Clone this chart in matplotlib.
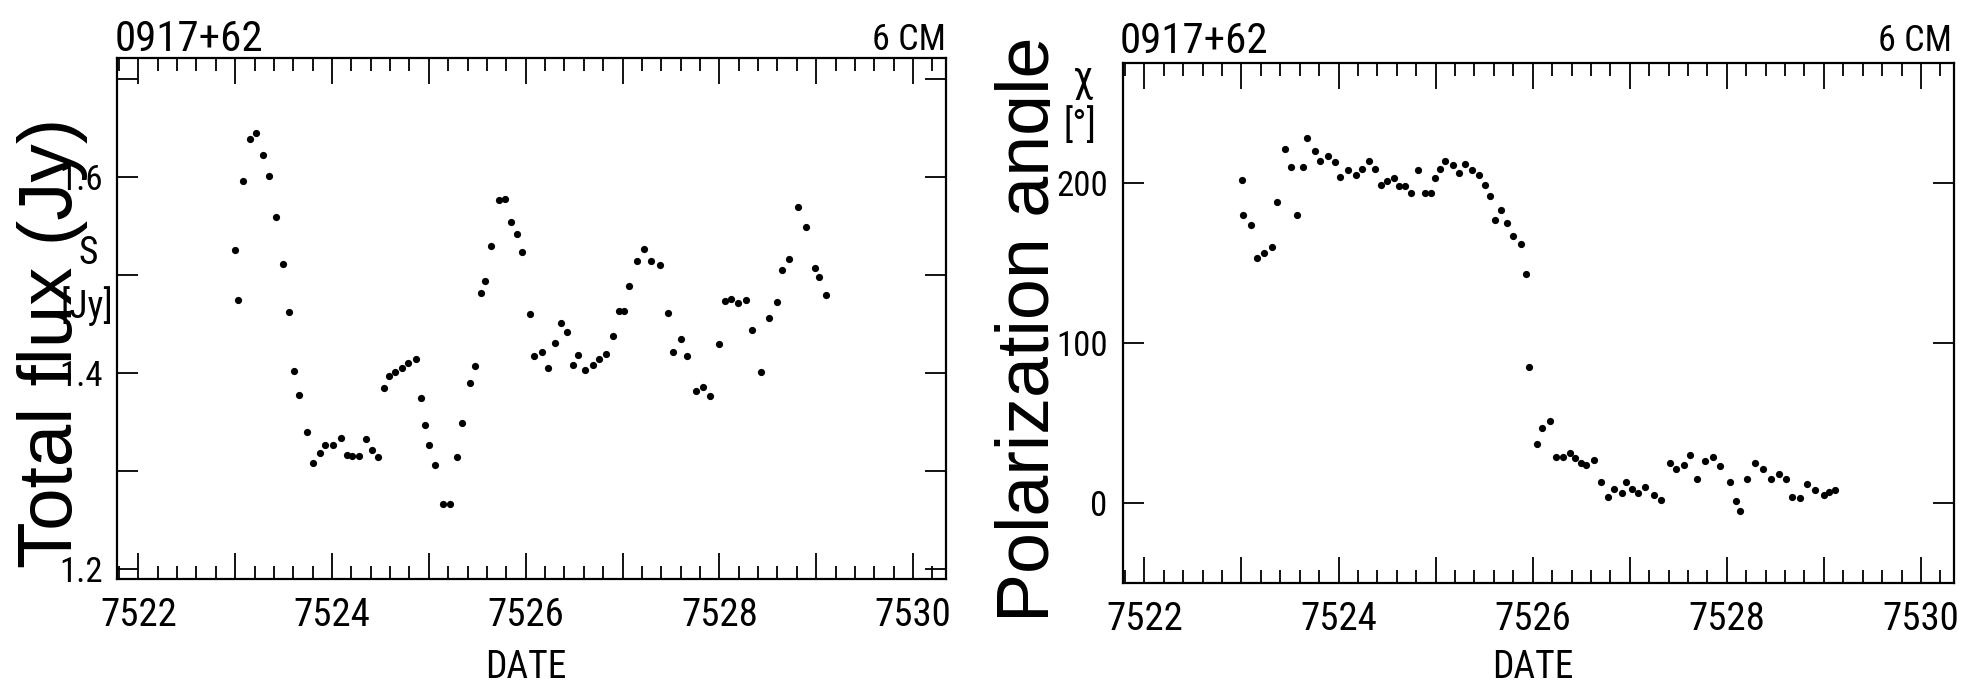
import matplotlib
matplotlib.use("Agg")
import matplotlib.pyplot as plt
from matplotlib.ticker import FixedLocator, MultipleLocator, FuncFormatter
from matplotlib.transforms import Bbox, TransformedBbox

# 0917+62, 6 cm monitoring
flux_date = [7523.00, 7523.03, 7523.08, 7523.15, 7523.22, 7523.29, 7523.35, 7523.42, 7523.49, 7523.56,
             7523.61, 7523.66, 7523.74, 7523.80, 7523.88, 7523.93, 7524.01, 7524.09, 7524.15, 7524.21,
             7524.28, 7524.35, 7524.41, 7524.48, 7524.54, 7524.59, 7524.65, 7524.72, 7524.78, 7524.87,
             7524.92, 7524.96, 7525.00, 7525.06, 7525.15, 7525.22, 7525.29, 7525.34, 7525.42, 7525.48,
             7525.54, 7525.58, 7525.64, 7525.72, 7525.79, 7525.85, 7525.91, 7525.96, 7526.04, 7526.09,
             7526.17, 7526.23, 7526.30, 7526.36, 7526.43, 7526.49, 7526.54, 7526.61, 7526.69, 7526.76,
             7526.83, 7526.90, 7526.96, 7527.01, 7527.07, 7527.15, 7527.22, 7527.29, 7527.39, 7527.47,
             7527.52, 7527.60, 7527.67, 7527.76, 7527.83, 7527.90, 7528.00, 7528.06, 7528.12, 7528.19,
             7528.27, 7528.34, 7528.43, 7528.51, 7528.59, 7528.65, 7528.72, 7528.81, 7528.89, 7528.99,
             7529.03, 7529.10]
flux = [1.526, 1.475, 1.596, 1.639, 1.645, 1.622, 1.601, 1.559, 1.511, 1.462,
        1.402, 1.378, 1.340, 1.308, 1.319, 1.327, 1.327, 1.334, 1.316, 1.315,
        1.315, 1.333, 1.322, 1.314, 1.385, 1.397, 1.401, 1.405, 1.410, 1.414,
        1.375, 1.347, 1.327, 1.306, 1.267, 1.267, 1.314, 1.349, 1.390, 1.407,
        1.482, 1.494, 1.530, 1.577, 1.578, 1.554, 1.542, 1.524, 1.460, 1.417,
        1.422, 1.405, 1.431, 1.451, 1.442, 1.408, 1.418, 1.403, 1.408, 1.414,
        1.419, 1.438, 1.463, 1.463, 1.489, 1.514, 1.527, 1.514, 1.510, 1.461,
        1.422, 1.435, 1.417, 1.382, 1.386, 1.377, 1.430, 1.474, 1.476, 1.472,
        1.475, 1.444, 1.401, 1.456, 1.473, 1.505, 1.516, 1.569, 1.549, 1.507,
        1.498, 1.480]

pol_date = [7523.01, 7523.02, 7523.10, 7523.16, 7523.23, 7523.31, 7523.37, 7523.45, 7523.51, 7523.57,
            7523.63, 7523.68, 7523.76, 7523.81, 7523.89, 7523.96, 7524.02, 7524.10, 7524.18, 7524.24,
            7524.31, 7524.38, 7524.44, 7524.50, 7524.57, 7524.62, 7524.68, 7524.75, 7524.82, 7524.89,
            7524.95, 7524.99, 7525.05, 7525.10, 7525.18, 7525.24, 7525.30, 7525.38, 7525.45, 7525.51,
            7525.56, 7525.61, 7525.67, 7525.74, 7525.80, 7525.88, 7525.93, 7525.96, 7526.04, 7526.10,
            7526.18, 7526.24, 7526.31, 7526.38, 7526.44, 7526.50, 7526.55, 7526.63, 7526.70, 7526.78,
            7526.84, 7526.92, 7526.96, 7527.02, 7527.09, 7527.16, 7527.25, 7527.32, 7527.41, 7527.48,
            7527.56, 7527.62, 7527.69, 7527.78, 7527.86, 7527.93, 7528.03, 7528.09, 7528.14, 7528.21,
            7528.29, 7528.37, 7528.46, 7528.54, 7528.61, 7528.67, 7528.75, 7528.83, 7528.91, 7529.00,
            7529.05, 7529.11]
pol = [202, 180, 174, 153, 156, 160, 188, 221, 210, 180,
       210, 228, 220, 214, 217, 213, 204, 208, 205, 209,
       214, 209, 199, 201, 203, 198, 198, 194, 208, 194,
       194, 203, 209, 214, 211, 206, 212, 208, 205, 199,
       192, 177, 183, 175, 167, 162, 143, 85, 37, 47,
       51, 29, 29, 31, 28, 25, 24, 27, 13, 4,
       9, 6, 13, 9, 6, 10, 5, 2, 25, 21,
       24, 30, 15, 26, 29, 23, 13, 1, -5, 15,
       25, 21, 15, 18, 15, 4, 3, 12, 8, 5,
       7, 8]

date_ticks = [7522, 7523, 7524, 7525, 7526, 7527, 7528, 7529, 7530]
flux_ticks = [1.2, 1.3, 1.4, 1.5, 1.6, 1.7]
flux_labels = ["1.2", "", "1.4", "", "1.6", ""]
pol_ticks = [0, 100, 200]
pol_labels = ["0", "100", "200"]

W, H = 1972, 688
SCAN = ['Liberation Sans Narrow', 'Roboto Condensed', 'DejaVu Sans']
LABEL = ['Liberation Sans', 'DejaVu Sans']
plt.rcParams['font.family'] = SCAN
plt.rcParams['font.stretch'] = 'condensed'


def fx(px):
    return px / W


def fy(py):
    return 1 - py / H


def panel(fig, box, dates, vals, ylim, yticks, ylabels, ypad):
    l, t, r, b = box
    ax = fig.add_axes([fx(l), fy(b), (r - l) / W, (b - t) / H])
    ax.plot(dates, vals, 'o', color='black', markersize=5.2, markeredgewidth=0)
    ax.set_xlim(7521.78, 7530.34)
    ax.set_ylim(*ylim)
    ax.xaxis.set_major_locator(FixedLocator(date_ticks))
    ax.xaxis.set_minor_locator(MultipleLocator(0.2))
    ax.xaxis.set_major_formatter(FuncFormatter(
        lambda v, _: f"{v:.0f}" if round(v) % 2 == 0 else ""))
    ax.yaxis.set_major_locator(FixedLocator(yticks))
    ax.set_yticklabels(ylabels)
    for s in ax.spines.values():
        s.set_linewidth(1.6)
    ax.tick_params(which='both', direction='in', top=True, right=True, width=1.3)
    ax.tick_params(axis='x', which='major', length=19, labelsize=28, pad=13)
    ax.tick_params(axis='x', which='minor', length=9.5)
    ax.tick_params(axis='y', which='major', length=15, labelsize=25, pad=ypad)
    ax.set_xlabel("DATE", fontsize=27)
    ax.xaxis.set_label_coords((7526 - 7521.78) / (7530.34 - 7521.78),
                              -(649 - b) / (b - t))
    return ax


fig = plt.figure(figsize=(W / 100, H / 100), dpi=100)

panel(fig, (117, 58, 946, 579), flux_date, flux, (1.19, 1.7214),
      flux_ticks, flux_labels, 10)
panel(fig, (1123, 63, 1954, 583), pol_date, pol, (-50, 275),
      pol_ticks, pol_labels, 11)

# scan headers and unit labels
fig.text(fx(115), fy(51), "0917+62", ha='left', va='baseline', fontsize=31)
fig.text(fx(946), fy(50), "6 CM", ha='right', va='baseline', fontsize=26)
fig.text(fx(1120), fy(53), "0917+62", ha='left', va='baseline', fontsize=31)
fig.text(fx(1952), fy(51), "6 CM", ha='right', va='baseline', fontsize=26)
fig.text(fx(88), fy(253), "S", ha='center', va='center', fontsize=27)
fig.text(fx(87), fy(306), "[Jy]", ha='center', va='center', fontsize=27)
fig.text(fx(1083), fy(79), "χ", ha='center', va='center', fontsize=30)
fig.text(fx(1080), fy(126), "[°]", ha='center', va='center', fontsize=27)

# big overlay axis titles
fig.text(fx(72), fy(343), "Total flux (Jy)", rotation=90, rotation_mode='anchor',
         ha='center', va='baseline', fontsize=55, family=LABEL, stretch='normal')
t = fig.text(fx(1049), fy(329), "Polarization angle", rotation=90,
             rotation_mode='anchor', ha='center', va='baseline', fontsize=53,
             family=LABEL, stretch='normal')
t.set_clip_on(True)
t.set_clip_box(TransformedBbox(Bbox([[0, 0], [fx(1050), 1]]), fig.transFigure))

fig.savefig("out.png", dpi=100)
